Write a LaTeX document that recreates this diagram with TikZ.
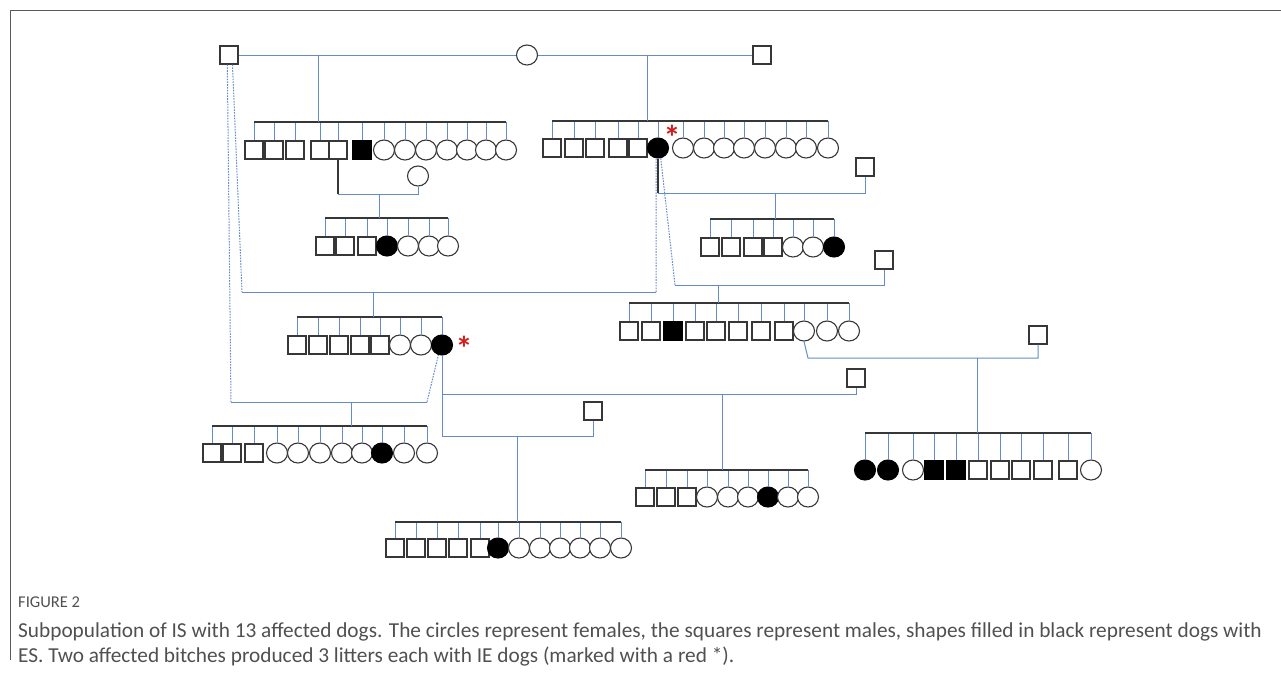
\documentclass[tikz,border=0pt]{standalone}
\usepackage{fontspec}
\setmainfont{Carlito}
\usetikzlibrary{shapes.geometric}
\definecolor{lk}{RGB}{100,140,205}
\definecolor{sg}{RGB}{55,55,55}
\definecolor{rd}{RGB}{205,30,30}
\definecolor{capg}{RGB}{80,80,80}
\definecolor{frameg}{RGB}{90,90,90}
\newcommand\mksib[4]{%
  \coordinate (#1b) at (0,#3);
  \foreach \t/\x [count=\i] in {#4} {
    \node[\t] (#1\i) at (\x,#2) {};
    \draw[kid] (#1\i.north) -- (#1\i.north |- #1b);
    \xdef\sibn{\i}
  }
  \draw[bar] (#11.north |- #1b) -- (#1\sibn.north |- #1b);
}
\begin{document}
\begin{tikzpicture}[x=1pt,y=-1pt,
  mal/.style={draw=sg,line width=1.1pt,rectangle,minimum size=18pt,inner sep=0pt,fill=white},
  fem/.style={draw=sg,line width=1.1pt,ellipse,minimum width=21pt,minimum height=20pt,inner sep=0pt,fill=white},
  malA/.style={mal,fill=black,draw=black},
  femA/.style={fem,fill=black,draw=black},
  link/.style={draw=lk,line width=1pt},
  bar/.style={draw=sg,line width=1.2pt},
  dot/.style={draw=lk,line width=1pt,dash pattern=on 1.6pt off 1.2pt},
  kid/.style={draw=lk,line width=1pt},
  ast/.style={text=rd,font=\fontsize{34}{34}\selectfont\bfseries,inner sep=0pt}
]
\useasboundingbox (0,0) rectangle (1281,673);
% frame
\coordinate (fr0) at (10,10); \coordinate (fr1) at (1281,10); \coordinate (fr2) at (10,660);
\draw[frameg,line width=1pt] (fr1) -- (fr0) -- (fr2);

% top generation
\node[mal] (S1) at (229,55) {};
\node[fem] (C0) at (527,55) {};
\node[mal] (S2) at (762,55) {};
\draw[link] (S1.east) -- (C0.west);
\draw[link] (C0.east) -- (S2.west);

% sibship A
\mksib{A}{150}{122}{mal/254,mal/274,mal/295,mal/320,mal/338,malA/362,fem/384,fem/405,fem/426,fem/447,fem/467,fem/486,fem/506}
\coordinate (pA) at (318,55); \draw[link] (pA) -- (pA |- Ab);

% sibship B
\mksib{B}{148}{121}{mal/552,mal/574,mal/595,mal/618,mal/638,femA/658,fem/683,fem/704,fem/724,fem/744,fem/765,fem/786,fem/806,fem/828}
\coordinate (pB) at (647,55); \draw[link] (pB) -- (pB |- Bb);
\node[ast] (r1) at (672,137) {*};

% sibship J
\node[fem] (Jm) at (418,176) {};
\coordinate (j1) at (338,194); \coordinate (j2) at (418,194);
\draw[bar] (A5.south) -- (j1); \draw[link] (j1) -- (j2) -- (Jm.south);
\mksib{J}{246}{218}{mal/325,mal/345,mal/367,femA/387,fem/408,fem/429,fem/448}
\coordinate (pJ) at (379,194); \draw[link] (pJ) -- (pJ |- Jb);

% sibship C
\node[mal] (S3) at (865,167) {};
\coordinate (c1) at (658,193); \coordinate (c2) at (865,193);
\draw[bar] (B6.south) -- (c1); \draw[link] (c1) -- (c2) -- (S3.south);
\mksib{C}{247}{219}{mal/710,mal/731,mal/753,mal/773,fem/793,fem/813,femA/834}
\coordinate (pC) at (775,193); \draw[link] (pC) -- (pC |- Cb);

% sibship D
\node[mal] (S4) at (884,260) {};
\coordinate (d1) at (675,285); \coordinate (d2) at (884,285);
\draw[dot] (B6.-75) -- (d1); \draw[link] (d1) -- (d2) -- (S4.south);
\mksib{D}{331}{303}{mal/629,mal/651,malA/673,mal/695,mal/716,mal/738,mal/761,mal/784,fem/804,fem/827,fem/849}
\coordinate (pD) at (718,285); \draw[link] (pD) -- (pD |- Db);

% sibship F
\coordinate (f1) at (242,292); \coordinate (f2) at (656,292);
\draw[dot] (S1.-70) -- (f1); \draw[link] (f1) -- (f2); \draw[dot] (f2) -- (B6.-100);
\mksib{F}{345}{317}{mal/297,mal/318,mal/339,mal/360,mal/380,fem/400,fem/421,femA/442}
\coordinate (pF) at (373,292); \draw[link] (pF) -- (pF |- Fb);
\node[ast] (r2) at (464,348) {*};

% sibship E
\node[mal] (S5) at (1038,335) {};
\coordinate (e1) at (808,358); \coordinate (e2) at (1038,358);
\draw[link] (D9.south) -- (e1) -- (e2) -- (S5.south);
\mksib{E}{470}{433}{femA/865,femA/888,fem/913,malA/934,malA/956,mal/978,mal/1000,mal/1021,mal/1043,mal/1068,fem/1091}
\coordinate (pE) at (977,358); \draw[link] (pE) -- (pE |- Eb);

% sibship G
\coordinate (g1) at (231,402); \coordinate (g2) at (427,402);
\draw[dot] (S1.-100) -- (g1); \draw[link] (g1) -- (g2); \draw[dot] (g2) -- (F8.-110);
\mksib{G}{453}{426}{mal/212,mal/232,mal/254,fem/277,fem/298,fem/320,fem/342,fem/362,femA/382,fem/404,fem/427}
\coordinate (pG) at (351,402); \draw[link] (pG) -- (pG |- Gb);

% sibship H
\node[mal] (S6) at (856,378) {};
\coordinate (h1) at (442,394); \coordinate (h2) at (856,394);
\coordinate (i1) at (442,436);
\draw[link] (F8.south) -- (i1);
\draw[link] (h1) -- (h2) -- (S6.south);
\mksib{H}{497}{470}{mal/645,mal/666,mal/687,fem/707,fem/728,fem/748,femA/768,fem/788,fem/808}
\coordinate (pH) at (722,394); \draw[link] (pH) -- (pH |- Hb);

% sibship I
\node[mal] (S7) at (593,411) {};
\coordinate (i2) at (593,436);
\draw[link] (i1) -- (i2) -- (S7.south);
\mksib{I}{548}{522}{mal/395,mal/416,mal/437,mal/458,mal/480,femA/498,fem/519,fem/540,fem/560,fem/580,fem/600,fem/621}
\coordinate (pI) at (517,436); \draw[link] (pI) -- (pI |- Ib);

% caption
\node[anchor=base west,inner sep=0pt,text=capg,font=\fontsize{16.5}{16.5}\selectfont] (fig) at (18,607) {FIGURE 2};
\node[anchor=base west,inner sep=0pt,text=capg,font=\fontsize{21.3}{21.3}\selectfont] (l1) at (18,637) {Subpopulation of IS with 13 affected dogs. The circles represent females, the squares represent males, shapes filled in black represent dogs with};
\node[anchor=base west,inner sep=0pt,text=capg,font=\fontsize{21.3}{21.3}\selectfont] (l2) at (18,662) {ES. Two affected bitches produced 3 litters each with IE dogs (marked with a red *).};
\end{tikzpicture}
\end{document}
